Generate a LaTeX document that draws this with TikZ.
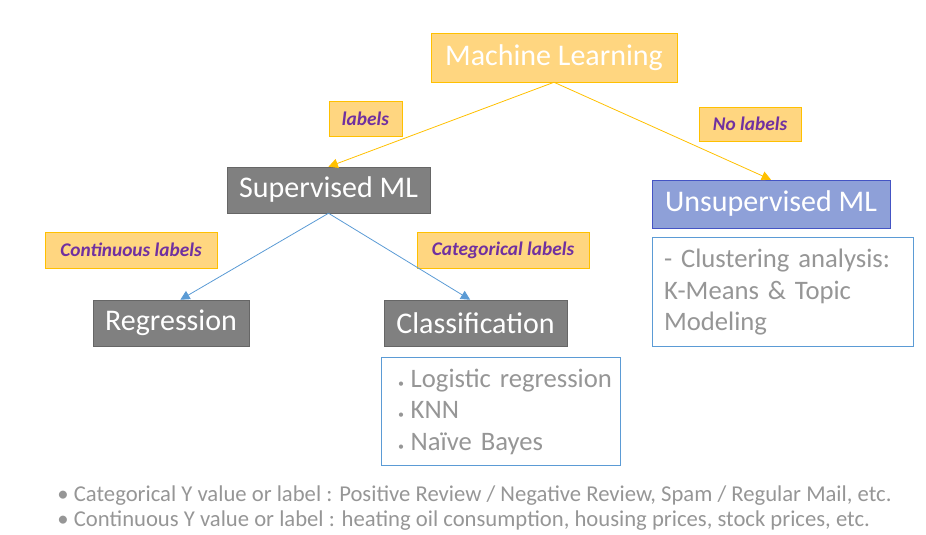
\documentclass[tikz,border=0pt]{standalone}
\usepackage{fontspec}
\setmainfont{Carlito}
\usepackage{xcolor}
\usetikzlibrary{arrows.meta, positioning}

\definecolor{goldfill}{RGB}{255,214,128}
\definecolor{golddraw}{RGB}{255,192,0}
\definecolor{greyfill}{RGB}{128,128,128}
\definecolor{bluefill}{RGB}{142,160,216}
\definecolor{bluedraw}{RGB}{68,84,196}
\definecolor{skyline}{RGB}{91,155,213}
\definecolor{labtext}{RGB}{112,48,160}
\definecolor{softtext}{RGB}{150,150,150}

\begin{document}
\begin{tikzpicture}[
    x=0.75pt, y=-0.75pt,
    head/.style={rectangle, inner sep=0pt, text=white,
                 font=\fontsize{22.5}{27}\selectfont},
    tag/.style={rectangle, draw=golddraw, fill=goldfill, inner sep=0pt,
                text=labtext, font=\fontsize{14.5}{17}\selectfont\bfseries\itshape},
    listbox/.style={rectangle, draw=skyline, thick, fill=white, inner sep=0pt,
                    text=softtext, align=left, anchor=north west,
                    font=\fontsize{20}{23.5}\selectfont},
    note/.style={anchor=west, text=softtext, inner sep=0pt,
                 font=\fontsize{17}{20}\selectfont},
    goldarr/.style={-{Triangle[length=7pt,width=7pt]}, golddraw, line width=0.6pt},
    bluearr/.style={-{Triangle[length=7pt,width=7pt]}, skyline, line width=0.6pt}
]
\useasboundingbox (0,0) rectangle (926,535);

\node[head, fill=goldfill, draw=golddraw, minimum width=184.5pt, minimum height=36.75pt] (ml) at (554,57.5) {Machine Learning};
\node[head, fill=greyfill, draw=greyfill!80!black, minimum width=152.25pt, minimum height=34.5pt] (sup) at (328.5,190) {Supervised ML};
\node[head, fill=bluefill, draw=bluedraw, minimum width=178.5pt, minimum height=36pt] (unsup) at (771,204) {Unsupervised ML};
\node[head, fill=greyfill, draw=greyfill!80!black, minimum width=117pt, minimum height=34.5pt] (reg) at (171,323) {Regression};
\node[head, fill=greyfill, draw=greyfill!80!black, minimum width=137.25pt, minimum height=34.5pt] (cls) at (475.5,323) {Classification};

\node[tag, minimum width=54.75pt, minimum height=26.25pt] (lab) at (365.5,118.5) {labels};
\node[tag, minimum width=76.5pt, minimum height=25.5pt] (nolab) at (750,124) {No labels};
\node[tag, minimum width=129pt, minimum height=27pt] (cont) at (131,250) {Continuous labels};
\node[tag, minimum width=129pt, minimum height=27pt] (cat) at (503,250) {Categorical labels};

\draw[goldarr] (ml.south) -- (sup.north);
\draw[goldarr] (ml.south) -- (unsup.north);
\draw[bluearr] (sup.south) -- ([xshift=7pt]reg.north);
\draw[bluearr] (sup.south) -- ([xshift=-4pt]cls.north);

% lists under the leaf boxes
\node[listbox, minimum width=195.75pt, minimum height=81.75pt, text width=190pt,
      below=6.75pt of unsup.south west, anchor=north west] (clusters)
  {\hspace*{6pt}- Clustering analysis:\\\hspace*{6pt}K-Means \& Topic\\\hspace*{6pt}Modeling};
\node[listbox, minimum width=179.25pt, minimum height=81pt, text width=170pt,
      below=8.25pt of cls.south west, xshift=-2.25pt, anchor=north west] (models)
  {\hspace*{8pt}{\small\textbullet}\hspace{5pt}Logistic regression\\
   \hspace*{8pt}{\small\textbullet}\hspace{5pt}KNN\\
   \hspace*{8pt}{\small\textbullet}\hspace{5pt}Naïve Bayes};

\node[note] (catnote) at (57,496)
  {•\hspace{4pt}Categorical Y value or label : Positive Review / Negative Review, Spam / Regular Mail, etc.};
\node[note] (contnote) at (57,521)
  {•\hspace{4pt}Continuous Y value or label : heating oil consumption, housing prices, stock prices, etc.};
\end{tikzpicture}
\end{document}
